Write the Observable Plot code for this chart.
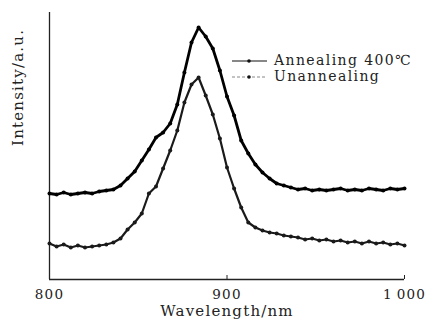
<!DOCTYPE html>
<html>
<head>
<meta charset="utf-8">
<script src="https://cdn.jsdelivr.net/npm/d3@7"></script>
<script src="https://cdn.jsdelivr.net/npm/@observablehq/plot@0.6"></script>
<style>
  html, body { margin: 0; padding: 0; background: #fff; }
  #wrap { position: relative; width: 429px; height: 329px; }
  #wrap svg, #wrap svg text { font-family: "DejaVu Serif", serif !important; letter-spacing: 1.2px; }
  #legend { position: absolute; left: 0; top: 0; }
</style>
</head>
<body>
<div id="wrap"></div>
<script>
// Wavelength (nm) sampled every 4 nm
const wavelength = [800,804,808,812,816,820,824,828,832,836,840,844,848,852,856,860,864,868,872,876,880,884,888,892,896,900,904,908,912,916,920,924,928,932,936,940,944,948,952,956,960,964,968,972,976,980,984,988,992,996,1000];
// Intensity (a.u.)
const annealed = [86,85,87,85,86,87,86,88,89,90,94,101,108,119,130,142,147,156,175,207,237,252,243,231,209,183,164,139,126,115,107,101,96,94,92,90,91,89,90,89,90,91,89,90,89,91,90,89,91,90,91];
const unannealed = [36,33,35,32,34,32,33,34,35,37,41,50,57,66,86,93,111,129,149,177,195,202,184,165,141,112,91,72,57,52,49,47,46,44,43,42,40,41,39,40,38,39,37,38,36,38,36,37,35,36,34];
const seriesNames = ["Annealing 400\u2103", "Unannealing"];
const xTicks = [800, 900, 1000];
const xTickLabels = ["800", "900", "1\u2009000"];
const xLabel = "Wavelength/nm";
const yLabel = "Intensity/a.u.";

const serif = '"DejaVu Serif", serif';
const rows = [];
wavelength.forEach((w, i) => {
  rows.push({w, v: annealed[i], s: seriesNames[0]});
  rows.push({w, v: unannealed[i], s: seriesNames[1]});
});
const up = rows.filter(d => d.s === seriesNames[0]);
const lo = rows.filter(d => d.s === seriesNames[1]);

const chart = Plot.plot({
  width: 429,
  height: 329,
  marginTop: 12,
  marginBottom: 50,
  marginLeft: 49,
  marginRight: 25,
  style: {background: "#fff", fontFamily: serif},
  x: {domain: [800, 1000], axis: null},
  y: {domain: [0, 267], axis: null},
  marks: [
    Plot.ruleX([800], {stroke: "#222", strokeWidth: 1.3}),
    Plot.ruleY([0], {stroke: "#222", strokeWidth: 1.3}),
    Plot.ruleX(xTicks, {y1: 0, y2: 4, stroke: "#222", strokeWidth: 1}),
    Plot.text(xTicks, {x: d => d, text: (d, i) => xTickLabels[i], frameAnchor: "bottom", dy: 19, fontSize: 13.5, fontFamily: serif, fill: "#222"}),
    Plot.text([xLabel], {frameAnchor: "bottom", dy: 36, fontSize: 15, fontFamily: serif, fill: "#222"}),
    Plot.text([yLabel], {frameAnchor: "left", dx: -31, rotate: -90, fontSize: 15, fontFamily: serif, fill: "#222"}),
    Plot.line(lo, {x: "w", y: "v", stroke: "#1a1a1a", strokeWidth: 2.2, curve: "linear"}),
    Plot.dot(lo, {x: "w", y: "v", r: 2, fill: "#1a1a1a", stroke: "none"}),
    Plot.line(up, {x: "w", y: "v", stroke: "#000", strokeWidth: 2.8, curve: "linear"}),
    Plot.dot(up, {x: "w", y: "v", r: 2, fill: "#000", stroke: "none"})
  ]
});
document.getElementById("wrap").appendChild(chart);

// Legend overlay
const lg = d3.select("#wrap").append("svg").attr("id", "legend").attr("width", 429).attr("height", 329);
const legendItems = [
  {name: seriesNames[0], y: 61, stroke: "#111", dash: null},
  {name: seriesNames[1], y: 77, stroke: "#888", dash: "3,2"}
];
legendItems.forEach(it => {
  lg.append("line").attr("x1", 232).attr("x2", 267).attr("y1", it.y).attr("y2", it.y)
    .attr("stroke", it.stroke).attr("stroke-width", 1.2).attr("stroke-dasharray", it.dash);
  lg.append("circle").attr("cx", 249).attr("cy", it.y).attr("r", 1.8).attr("fill", "#111");
  lg.append("text").attr("x", 274).attr("y", it.y + 4).attr("font-size", 14).attr("fill", "#222")
    .style("font-family", serif).style("letter-spacing", "1.4px").text(it.name);
});
</script>
</body>
</html>
